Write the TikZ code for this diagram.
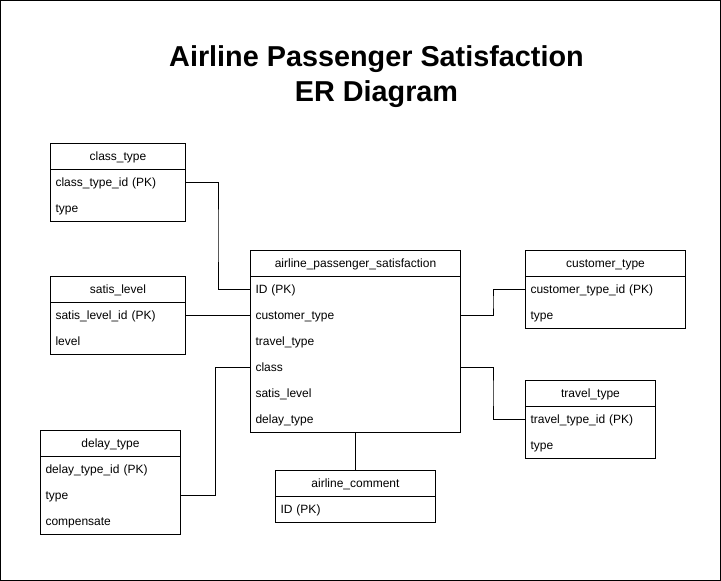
\documentclass[tikz,border=0pt]{standalone}
\usepackage{fontspec}
\setmainfont{Liberation Sans}
\usetikzlibrary{positioning,calc}

\begin{document}
\begin{tikzpicture}[
    x=1pt, y=-1pt,
    line width=1pt,
    every node/.style={font=\fontsize{12}{14}\selectfont, inner sep=0pt, outer sep=0pt},
    title/.style={font=\bfseries\fontsize{28.8}{35}\selectfont, anchor=base},
    head/.style={draw, minimum width=#1, minimum height=26pt, anchor=north west,
        text height=11.5pt, text depth=2.5pt},
    field/.style={text width=#1, inner xsep=5pt, minimum height=26pt, align=left,
        text height=11.5pt, text depth=2.5pt},
    elbow/.style={to path={-| ($(\tikztostart)!.5!(\tikztotarget)$) |- (\tikztotarget)}}
    ]
    \useasboundingbox (0,0) rectangle (721,581);
    \draw (0.5,0.5) rectangle (720.5,580.5);

    % Title
    \node[title] (title1) at (376.5,66) {Airline Passenger Satisfaction};
    \node[title] (title2) at (376.5,101) {ER Diagram};

    % Tables
    \node[head=135pt] (ct) at (50.5,143) {class\_type};
    \node[field=125pt, below=0pt of ct] (ct1) {class\_type\_id (PK)};
    \node[field=125pt, below=0pt of ct1] (ct2) {type};

    \node[head=135pt] (sl) at (50.5,276) {satis\_level};
    \node[field=125pt, below=0pt of sl] (sl1) {satis\_level\_id (PK)};
    \node[field=125pt, below=0pt of sl1] (sl2) {level};

    \node[head=210pt] (aps) at (250.5,250) {airline\_passenger\_satisfaction};
    \node[field=200pt, below=0pt of aps] (aps1) {ID (PK)};
    \node[field=200pt, below=0pt of aps1] (aps2) {customer\_type};
    \node[field=200pt, below=0pt of aps2] (aps3) {travel\_type};
    \node[field=200pt, below=0pt of aps3] (aps4) {class};
    \node[field=200pt, below=0pt of aps4] (aps5) {satis\_level};
    \node[field=200pt, below=0pt of aps5] (aps6) {delay\_type};

    \node[head=160pt] (cu) at (525.5,250) {customer\_type};
    \node[field=150pt, below=0pt of cu] (cu1) {customer\_type\_id (PK)};
    \node[field=150pt, below=0pt of cu1] (cu2) {type};

    \node[head=130pt] (tt) at (525.5,380) {travel\_type};
    \node[field=120pt, below=0pt of tt] (tt1) {travel\_type\_id (PK)};
    \node[field=120pt, below=0pt of tt1] (tt2) {type};

    \node[head=140pt] (dt) at (40.5,430) {delay\_type};
    \node[field=130pt, below=0pt of dt] (dt1) {delay\_type\_id (PK)};
    \node[field=130pt, below=0pt of dt1] (dt2) {type};
    \node[field=130pt, below=0pt of dt2] (dt3) {compensate};

    \node[head=160pt] (ac) at (275.5,470) {airline\_comment};
    \node[field=150pt, below=0pt of ac] (ac1) {ID (PK)};

    % Table outlines
    \foreach \t/\l in {ct/ct2, sl/sl2, aps/aps6, cu/cu2, tt/tt2, dt/dt3, ac/ac1}
        \draw (\t.south west) rectangle (\l.south east);

    % Connections
    \draw (ct1.east) to[elbow] (aps1.west);
    \draw (sl1.east) -- (aps2.west);
    \draw (dt2.east) to[elbow] (aps4.west);
    \draw (aps2.east) to[elbow] (cu1.west);
    \draw (aps4.east) to[elbow] (tt1.west);
    \draw (aps6.south) -- (ac.north);

\end{tikzpicture}
\end{document}
